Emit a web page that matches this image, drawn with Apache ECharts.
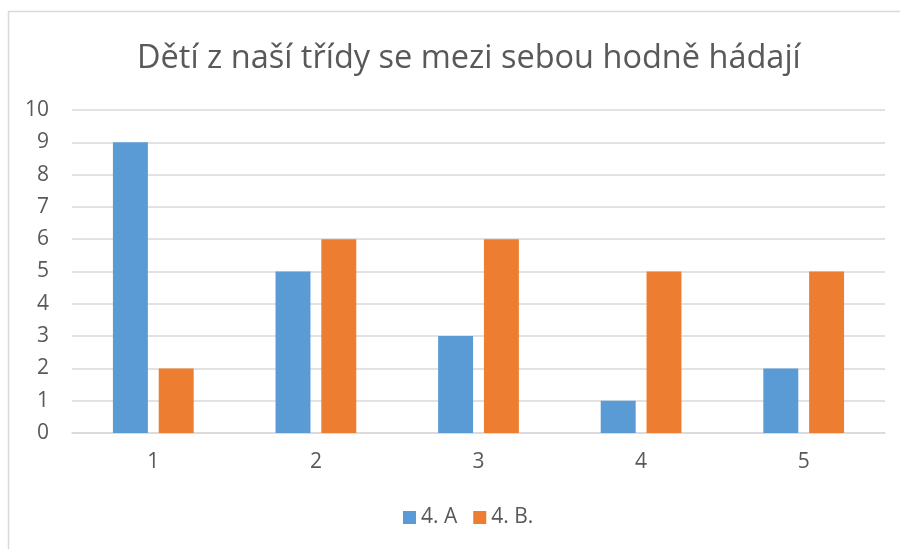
<!DOCTYPE html>
<html>
<head>
<meta charset="utf-8">
<script src="https://cdn.jsdelivr.net/npm/echarts@6/dist/echarts.min.js"></script>
<style>
  html, body { margin: 0; padding: 0; background: #fff; }
  #chart { width: 900px; height: 549px; }
</style>
</head>
<body>
<div id="chart"></div>
<script>
// data
const categories = ['1', '2', '3', '4', '5']
const seriesNames = ['4. A', '4. B.']
const classA = [9, 5, 3, 1, 2]
const classB = [2, 6, 6, 5, 5]
const titleText = 'Dětí z naší třídy se mezi sebou hodně hádají'

const font = 'Open Sans'
const chart = echarts.init(document.getElementById('chart'))

chart.setOption({
    animation: false,
    color: ['#5b9bd5', '#ed7d31'],
    textStyle: { fontFamily: font },
    graphic: [{
        type: 'rect',
        shape: { x: 8.5, y: 11.5, width: 900, height: 600 },
        style: { fill: 'none', stroke: '#d9d9d9', lineWidth: 1.5 },
        silent: true
    }],
    // the chart box runs past the right edge, so title and legend sit right of 450
    title: {
        text: titleText,
        left: 132,
        top: 37,
        textStyle: { fontFamily: font, fontSize: 32.5, fontWeight: 'normal', color: '#595959' }
    },
    legend: {
        bottom: 16,
        left: 398,
        itemWidth: 13,
        itemHeight: 13,
        itemGap: 16,
        icon: 'rect',
        textStyle: { fontFamily: font, fontSize: 21, color: '#595959' },
        data: seriesNames
    },
    grid: { left: 72, right: 15, top: 110, bottom: 116 },
    xAxis: {
        type: 'category',
        data: categories,
        axisLine: { lineStyle: { color: '#d9d9d9', width: 1.5 } },
        axisTick: { show: false },
        axisLabel: { fontFamily: font, fontSize: 21, color: '#595959', margin: 19 }
    },
    yAxis: {
        type: 'value',
        min: 0,
        max: 10,
        interval: 1,
        axisLine: { show: false },
        axisTick: { show: false },
        splitLine: { lineStyle: { color: '#d9d9d9', width: 1.5 } },
        axisLabel: { fontFamily: font, fontSize: 21, color: '#595959', margin: 23 }
    },
    series: [
        { name: seriesNames[0], type: 'bar', data: classA, barWidth: '21.5%', barGap: '31%' },
        { name: seriesNames[1], type: 'bar', data: classB, barWidth: '21.5%', barGap: '31%' }
    ]
})
</script>
</body>
</html>
